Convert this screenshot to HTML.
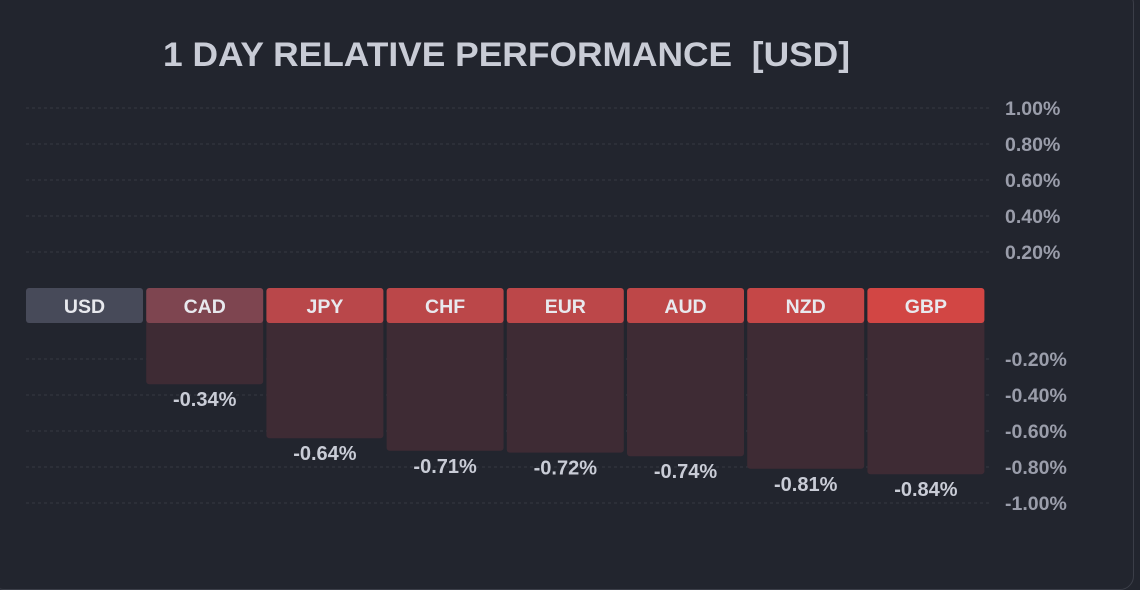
<!DOCTYPE html>
<html><head><meta charset="utf-8"><style>
html,body{margin:0;padding:0;background:#22252e;width:1140px;height:566px;overflow:hidden;font-family:"Liberation Sans",sans-serif}
#panel{position:absolute;left:-10px;top:-10px;width:1144px;height:600px;border:1px solid #3b3e48;border-radius:14px;box-sizing:border-box}
</style></head><body>
<div id="panel"></div>
<svg id="c" width="1140" height="566" style="position:absolute;left:0;top:0">
<text x="163" y="66" font-size="34" font-weight="bold" fill="#c9ccd6" font-family="Liberation Sans, sans-serif" textLength="687" lengthAdjust="spacingAndGlyphs" style="white-space:pre">1 DAY RELATIVE PERFORMANCE  [USD]</text>
</svg>
<script>
const categories=["USD","CAD","JPY","CHF","EUR","AUD","NZD","GBP"];
const values=[0,-0.34,-0.64,-0.71,-0.72,-0.74,-0.81,-0.84];
const valueLabels=["","-0.34%","-0.64%","-0.71%","-0.72%","-0.74%","-0.81%","-0.84%"];
const posTicks=[1.0,0.8,0.6,0.4,0.2];
const negTicks=[-0.2,-0.4,-0.6,-0.8,-1.0];
const posTickLabels=["1.00%","0.80%","0.60%","0.40%","0.20%"];
const negTickLabels=["-0.20%","-0.40%","-0.60%","-0.80%","-1.00%"];
const headColors=["#474a59","#7e4550","#b9474a","#bb4749","#bc4749","#be4748","#c54747","#d24644"];
const svg=document.getElementById('c');const NS="http://www.w3.org/2000/svg";
const pxPerPct=180, posZero=288, negZero=323;
function yPos(v){return posZero-v*pxPerPct;}
function yNeg(v){return negZero-v*pxPerPct;}
function xCol(i){return 26+i*120.2;}
const colW=117;
function mk(t,a){const e=document.createElementNS(NS,t);for(const k in a)e.setAttribute(k,a[k]);svg.appendChild(e);return e;}
posTicks.forEach((t,i)=>{
 const l=mk('line',{x1:26,x2:990,y1:yPos(t),y2:yPos(t),stroke:'#363943','stroke-dasharray':'3 3'});
 
 
 const tx=mk('text',{x:1005,y:yPos(t)+7,'font-size':19.5,'font-weight':'bold',fill:'#9a9daa'});tx.textContent=posTickLabels[i];
 
 
});
negTicks.forEach((t,i)=>{
 const l=mk('line',{x1:26,x2:990,y1:yNeg(t),y2:yNeg(t),stroke:'#363943','stroke-dasharray':'3 3'});
 
 
 const tx=mk('text',{x:1005,y:yNeg(t)+7,'font-size':19.5,'font-weight':'bold',fill:'#9a9daa'});tx.textContent=negTickLabels[i];
 
 
});
categories.forEach((c,i)=>{
 const x=xCol(i),v=values[i];
 if(v<0){
  const b=mk('rect',{x:x,y:negZero-3,width:colW,height:yNeg(v)-negZero+3,rx:3,fill:'#3e2b34'});
  
  
  const tl=mk('text',{x:x+colW/2,y:yNeg(v)+22,'font-size':20,'font-weight':'bold','text-anchor':'middle',fill:'#c9ccd6'});tl.textContent=valueLabels[i];
  
  
 }
 const h=mk('rect',{x:x,y:288,width:colW,height:35,rx:3,fill:headColors[i]});
 
 
 const t=mk('text',{x:x+colW/2,y:313,'font-size':19.5,'font-weight':'bold','text-anchor':'middle',fill:'#e8e9ee'});t.textContent=c;
 
 
});
</script>
</body></html>
